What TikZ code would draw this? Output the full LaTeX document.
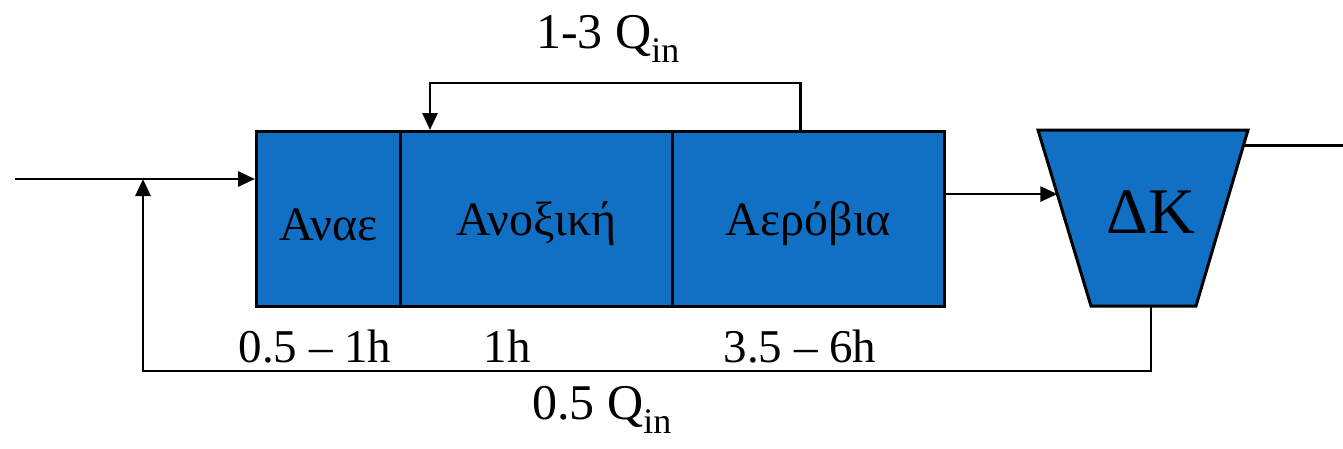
\documentclass[tikz,border=0pt]{standalone}
\usepackage{fontspec}
\setmainfont{Liberation Serif}
\newfontfamily\tnr{Liberation Serif}
\usetikzlibrary{arrows.meta,calc}
\definecolor{tank}{RGB}{17,111,196}
\begin{document}
\begin{tikzpicture}[x=1pt,y=-1pt,
  tankbox/.style={draw=black,fill=tank,line width=3pt,minimum height=175pt,inner sep=0pt,
    text depth=0pt,font=\tnr\fontsize{48}{52}\selectfont},
  settler/.style={draw=black,fill=tank,line width=3pt,line join=miter},
  flow/.style={line width=2.8pt},
  arr/.style={flow,-{Triangle[length=17pt,width=15pt]}},
  lbl/.style={inner sep=0pt,font=\tnr\fontsize{47}{50}\selectfont},
  qlbl/.style={inner sep=0pt,font=\tnr\fontsize{50}{54}\selectfont}]
\useasboundingbox[fill=white] (0,0) rectangle (1343,448);
% tanks
\node[tankbox,anchor=north west,minimum width=144pt,text height=43pt] (anae) at (255,130) {Αναε};
\node[tankbox,anchor=north west,minimum width=272pt,text height=33pt] (anox) at (399,130) {Ανοξική};
\node[tankbox,anchor=north west,minimum width=272pt,text height=33pt] (aer) at (671,130) {Αερόβια};
% settler (trapezoid)
\coordinate (tl) at (1038,130);
\coordinate (tr) at (1248,130);
\coordinate (br) at (1196,306);
\coordinate (bl) at (1091,306);
\draw[settler] (tl) -- (tr) -- (br) -- (bl) -- cycle;
\node[inner sep=0pt,anchor=base,font=\tnr\fontsize{65}{70}\selectfont] (dk) at (1151,233) {ΔΚ};
% coordinates
\coordinate (in) at (15,179);
\coordinate (join) at (143,179);
\coordinate (rb) at (143,371);
\coordinate (dkin) at ($(tl)!0.364!(bl)$);
\coordinate (dkout) at ($(tr)!0.09!(br)$);
\coordinate (dkbot) at (1151,306);
\coordinate (out) at (1343,146);
\coordinate (rtop) at (430,83);
% connectors
\draw[arr] (in) -- (anae.west |- in);
\draw[arr] (aer.east |- dkin) -- (dkin);
\draw[flow] (dkout) -- (out |- dkout);
\draw[arr] ($(aer.north west)!0.471!(aer.north east)$) |- (rtop) -- (rtop |- anox.north);
\draw[arr] (dkbot) |- (rb) -- (join);
% labels
\node[qlbl,anchor=base west] (q13) at (536,48) {1-3 Q\raisebox{-14pt}{\fontsize{36}{36}\selectfont in}};
\node[qlbl,anchor=base west] (q05) at (532,419) {0.5 Q\raisebox{-14pt}{\fontsize{36}{36}\selectfont in}};
\node[lbl,anchor=base] (t1) at (315,362) {0.5 – 1h};
\node[lbl,anchor=base] (t2) at (507,362) {1h};
\node[lbl,anchor=base] (t3) at (800,362) {3.5 – 6h};
\end{tikzpicture}
\end{document}
